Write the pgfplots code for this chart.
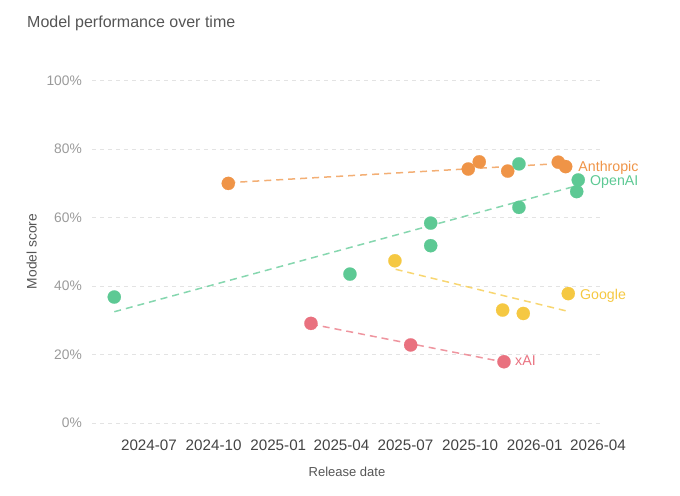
\documentclass[border=0pt]{standalone}
\usepackage{fontspec}
\setmainfont{Liberation Sans}
\usepackage{pgfplots}
\pgfplotsset{compat=1.18}
\definecolor{cgreen}{HTML}{5DC994}
\definecolor{corange}{HTML}{EF9447}
\definecolor{cyellow}{HTML}{F5C842}
\definecolor{cpink}{HTML}{E9717F}
\definecolor{cgrid}{HTML}{E3E3E3}
\definecolor{ctitle}{HTML}{555555}
\definecolor{cytick}{HTML}{9A9A9A}
\definecolor{cxtick}{HTML}{444444}
\begin{document}
\begin{tikzpicture}
\useasboundingbox (-92bp,-73bp) rectangle (588bp,423bp);
\begin{axis}[
  scale only axis, width=510bp, height=342.3bp,
  xmin=100.9, xmax=826.7, ymin=0, ymax=100,
  clip=false,
  axis line style={draw=none},
  tick style={draw=none},
  xtick={182,274,366,456,547,639,731,821},
  xticklabels={2024-07,2024-10,2025-01,2025-04,2025-07,2025-10,2026-01,2026-04},
  ytick={0,20,40,60,80,100},
  yticklabels={0\%,20\%,40\%,60\%,80\%,100\%},
  xticklabel style={font=\fontsize{15.2bp}{17bp}\selectfont, text=cxtick, anchor=base, inner sep=0pt, yshift=-27.7bp},
  yticklabel style={font=\fontsize{13.8bp}{16bp}\selectfont, text=cytick, anchor=east, inner sep=0pt, xshift=-10bp},
  ymajorgrids,
  major grid style={cgrid, line width=1bp, dash pattern=on 4bp off 4bp},
  trend/.style={line width=1.5bp, dash pattern=on 7bp off 5bp, opacity=0.75},
  pts/.style={only marks, mark=*, mark size=6.6bp, mark options={draw=#1, fill=#1, line width=0.2pt}},
]
% trend lines
\addplot[trend, cgreen] coordinates {(132.6,32.5) (790.7,69.3)};
\addplot[trend, corange] coordinates {(294.9,70.2) (775,75.9)};
\addplot[trend, cyellow] coordinates {(533,44.9) (778.7,32.6)};
\addplot[trend, cpink] coordinates {(412.5,28.9) (687.2,17.8)};
% points
\addplot[pts=corange] coordinates {(294.9,70.0) (636.4,74.2) (652,76.3) (692.5,73.6) (764.5,76.2) (775,74.9)};
\addplot[pts=cgreen] coordinates {(132.6,36.8) (468,43.5) (582.9,58.4) (582.9,51.8) (708.5,75.7) (708.5,63.0) (790.7,67.6) (792.9,71.0)};
\addplot[pts=cyellow] coordinates {(532,47.4) (685.3,33.0) (714.7,32.0) (778.7,37.8)};
\addplot[pts=cpink] coordinates {(412.5,29.1) (554.4,22.8) (687.2,17.9)};
% series labels
\node[anchor=base west, inner sep=0pt, text=corange, font=\fontsize{14.2bp}{16bp}\selectfont] at (axis cs:792.9,73.6) {Anthropic};
\node[anchor=base west, inner sep=0pt, text=cgreen, font=\fontsize{14.2bp}{16bp}\selectfont] at (axis cs:809.6,69.5) {OpenAI};
\node[anchor=base west, inner sep=0pt, text=cyellow, font=\fontsize{14.2bp}{16bp}\selectfont] at (axis cs:795.3,36.2) {Google};
\node[anchor=base west, inner sep=0pt, text=cpink, font=\fontsize{14.2bp}{16bp}\selectfont] at (axis cs:702.9,16.7) {xAI};
\end{axis}
\node[anchor=base west, inner sep=0pt, text=ctitle, font=\fontsize{16bp}{19bp}\selectfont] at (-65bp,395.7bp) {Model performance over time};
\node[anchor=center, inner sep=0pt, rotate=90, text=ctitle, font=\fontsize{13.8bp}{16bp}\selectfont] at (-60.3bp,171.5bp) {Model score};
\node[anchor=base, inner sep=0pt, text=ctitle, font=\fontsize{13bp}{16bp}\selectfont] at (255bp,-53.7bp) {Release date};
\end{tikzpicture}
\end{document}
